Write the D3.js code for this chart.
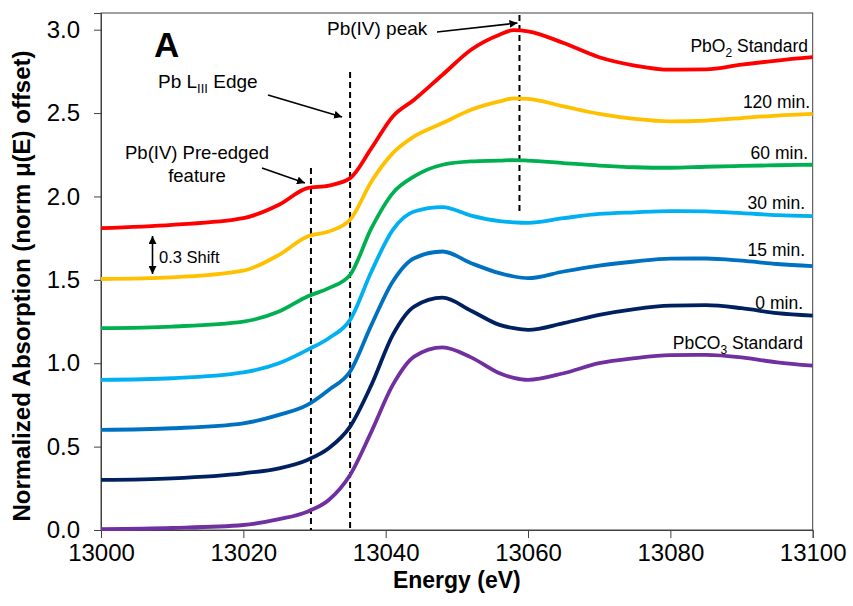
<!DOCTYPE html>
<html>
<head>
<meta charset="utf-8">
<script src="https://cdn.jsdelivr.net/npm/d3@7"></script>
<style>
  html, body { margin: 0; padding: 0; background: #fff; }
  svg { display: block; font-family: "Liberation Sans", Arial, sans-serif; }
</style>
</head>
<body>
<svg id="chart" width="853" height="606"></svg>
<script>
// ---------- data ----------
const energies = [13000,13010,13020,13025,13029,13032,13035,13038,13041,13044,13048,13052,13056,13058,13060,13065,13070,13075,13080,13085,13090,13095,13100];

const pbco3  = [0.005,0.012,0.03,0.065,0.11,0.18,0.33,0.59,0.87,1.04,1.095,1.035,0.94,0.912,0.90,0.94,1.0,1.03,1.048,1.05,1.035,1.005,0.985];
const min0   = [0.30,0.31,0.34,0.37,0.42,0.49,0.62,0.87,1.17,1.34,1.393,1.315,1.23,1.21,1.20,1.24,1.29,1.325,1.345,1.348,1.33,1.30,1.285];
const min15  = [0.60,0.61,0.64,0.69,0.75,0.84,0.95,1.23,1.49,1.63,1.67,1.60,1.54,1.52,1.51,1.55,1.585,1.61,1.627,1.628,1.615,1.595,1.582];
const min30  = [0.90,0.91,0.945,1.00,1.08,1.15,1.26,1.55,1.80,1.91,1.936,1.885,1.852,1.845,1.842,1.87,1.895,1.905,1.912,1.91,1.90,1.888,1.882];
const min60  = [1.21,1.22,1.25,1.31,1.40,1.45,1.53,1.81,2.02,2.12,2.19,2.21,2.215,2.218,2.215,2.20,2.185,2.175,2.172,2.178,2.183,2.187,2.19];
const min120 = [1.505,1.515,1.555,1.65,1.76,1.79,1.86,2.09,2.26,2.36,2.44,2.52,2.57,2.588,2.585,2.54,2.495,2.465,2.45,2.455,2.47,2.485,2.495];
const pbo2   = [1.81,1.83,1.87,1.95,2.05,2.065,2.11,2.29,2.48,2.58,2.73,2.88,2.97,2.997,2.99,2.92,2.835,2.785,2.76,2.762,2.79,2.815,2.835];

const seriesNames  = ["PbCO3 Standard","0 min.","15 min.","30 min.","60 min.","120 min.","PbO2 Standard"];
const seriesValues = [pbco3, min0, min15, min30, min60, min120, pbo2];
const seriesColors = ["#7030A0","#002060","#0070C0","#00B0F0","#00B050","#FFC000","#FF0000"];

const xTicks = [13000,13020,13040,13060,13080,13100];
const yTicks = [0,0.5,1.0,1.5,2.0,2.5,3.0];

// annotation positions in data units
const preEdgeE = 13029.5, edgeE = 13035, peakE = 13058.8;

// ---------- layout ----------
const svg = d3.select("#chart");
const L = 101, R = 812.7, T = 13, B = 530;
const x = d3.scaleLinear().domain([13000, 13100]).range([L, R]);
const y = d3.scaleLinear().domain([0, 3.1]).range([B, T]);
const axisColor = "#404040";

// frame
svg.append("rect").attr("x", L).attr("y", T).attr("width", R - L).attr("height", B - T)
  .attr("fill", "none").attr("stroke", axisColor).attr("stroke-width", 1);

// axes
const gx = svg.append("g").attr("transform", `translate(0,${B})`)
  .call(d3.axisBottom(x).tickValues(xTicks).tickFormat(d3.format("d")).tickSize(8).tickPadding(6));
const gy = svg.append("g").attr("transform", `translate(${L},0)`)
  .call(d3.axisLeft(y).tickValues(yTicks).tickFormat(d3.format(".1f")).tickSize(7).tickPadding(14));
[gx, gy].forEach(g => {
  g.select(".domain").attr("stroke", axisColor);
  g.selectAll(".tick line").attr("stroke", axisColor);
  g.selectAll(".tick text").attr("fill", "#000").style("font-size", "24px")
    .style("font-family", "'Liberation Sans', Arial, sans-serif");
});

// axis titles
svg.append("text").attr("x", (L + R) / 2).attr("y", 588).attr("text-anchor", "middle")
  .style("font-size", "23px").style("font-weight", "bold").text("Energy (eV)");
svg.append("text").attr("transform", "translate(30,286) rotate(-90)").attr("text-anchor", "middle")
  .style("font-size", "24px").style("font-weight", "bold").text("Normalized Absorption (norm μ(E) offset)");

// dashed guide lines
const dash = "6,4";
svg.append("line").attr("x1", x(preEdgeE)).attr("x2", x(preEdgeE)).attr("y1", 168).attr("y2", B)
  .attr("stroke", "#000").attr("stroke-width", 2).attr("stroke-dasharray", dash);
svg.append("line").attr("x1", x(edgeE)).attr("x2", x(edgeE)).attr("y1", 72).attr("y2", B)
  .attr("stroke", "#000").attr("stroke-width", 2).attr("stroke-dasharray", dash);
svg.append("line").attr("x1", x(peakE)).attr("x2", x(peakE)).attr("y1", T + 2).attr("y2", 214)
  .attr("stroke", "#000").attr("stroke-width", 2).attr("stroke-dasharray", dash);

// curves
const line = d3.line().x((d, i) => x(energies[i])).y(d => y(d)).curve(d3.curveMonotoneX);
svg.append("g").selectAll("path").data(seriesValues).join("path")
  .attr("d", d => line(d)).attr("fill", "none")
  .attr("stroke", (d, i) => seriesColors[i]).attr("stroke-width", 3.8)
  .attr("stroke-linejoin", "round").attr("stroke-linecap", "butt");

// arrow marker
const defs = svg.append("defs");
defs.append("marker").attr("id", "ah").attr("viewBox", "0 0 10 10").attr("refX", 10).attr("refY", 5)
  .attr("markerWidth", 8).attr("markerHeight", 8).attr("markerUnits", "userSpaceOnUse")
  .attr("orient", "auto-start-reverse")
  .append("path").attr("d", "M0,0 L10,5 L0,10 z").attr("fill", "#000");

function arrow(x1, y1, x2, y2, both) {
  const l = svg.append("line").attr("x1", x1).attr("y1", y1).attr("x2", x2).attr("y2", y2)
    .attr("stroke", "#000").attr("stroke-width", 1.6).attr("marker-end", "url(#ah)");
  if (both) l.attr("marker-start", "url(#ah)");
}

// right-hand labels
const labFont = "17.5px";
const rightLabels = [
  {t: "PbO", sub: "2", rest: " Standard", x: 808, y: 51.5},
  {t: "120 min.", x: 810, y: 108},
  {t: "60 min.", x: 808, y: 159},
  {t: "30 min.", x: 805, y: 209},
  {t: "15 min.", x: 805, y: 255.5},
  {t: "0 min.", x: 803, y: 309},
  {t: "PbCO", sub: "3", rest: " Standard", x: 803, y: 349}
];
rightLabels.forEach(d => {
  const t = svg.append("text").attr("x", d.x).attr("y", d.y).attr("text-anchor", "end")
    .style("font-size", labFont);
  t.append("tspan").text(d.t);
  if (d.sub) {
    t.append("tspan").attr("dy", 5).style("font-size", "12px").text(d.sub);
    t.append("tspan").attr("dy", -5).text(d.rest);
  }
});

// panel letter
svg.append("text").attr("x", 154).attr("y", 57).style("font-size", "35px").style("font-weight", "bold").text("A");

// Pb(IV) peak
svg.append("text").attr("x", 327).attr("y", 35).style("font-size", "19px").text("Pb(IV) peak");
arrow(437, 32, x(peakE) - 2, 23);

// Pb LIII Edge
const edgeT = svg.append("text").attr("x", 158).attr("y", 88).style("font-size", "19px");
edgeT.append("tspan").text("Pb L");
edgeT.append("tspan").attr("dy", 5).style("font-size", "13px").text("III");
edgeT.append("tspan").attr("dy", -5).text(" Edge");
arrow(268, 95, x(edgeE) - 8, 117);

// Pre-edge feature
svg.append("text").attr("x", 197).attr("y", 159).attr("text-anchor", "middle").style("font-size", "18.5px").text("Pb(IV) Pre-edged");
svg.append("text").attr("x", 197).attr("y", 182).attr("text-anchor", "middle").style("font-size", "18.5px").text("feature");
arrow(262, 168, x(preEdgeE) - 6, 183);

// 0.3 shift
arrow(152.5, 236, 152.5, 274, true);
svg.append("text").attr("x", 159).attr("y", 263).style("font-size", "16.5px").text("0.3 Shift");
</script>
</body>
</html>
